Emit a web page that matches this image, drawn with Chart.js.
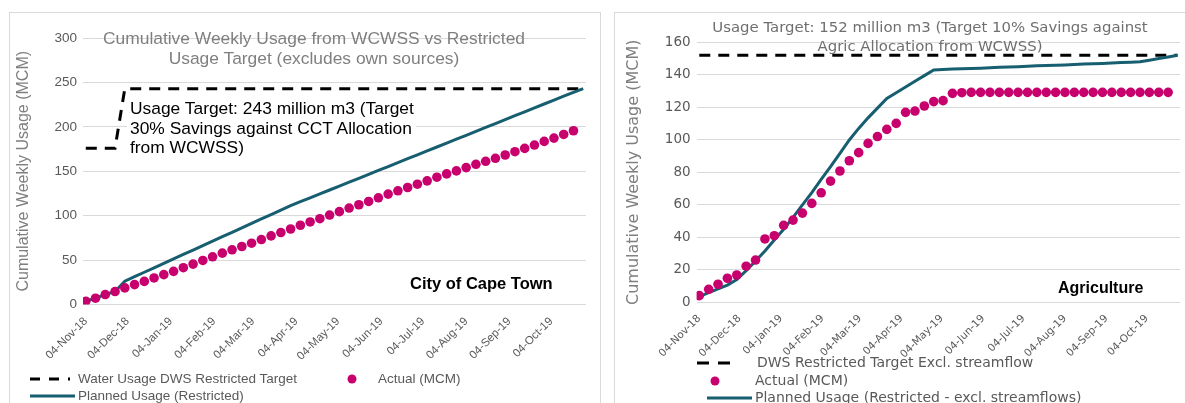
<!DOCTYPE html>
<html>
<head>
<meta charset="utf-8">
<script src="https://cdn.jsdelivr.net/npm/chart.js"></script>
<style>
  html, body { margin: 0; padding: 0; background: #fff; overflow: hidden; }
  body { width: 1185px; height: 403px; position: relative; font-family: 'Liberation Sans', Arial, sans-serif; }
  .panel { position: absolute; border: 1px solid #d9d9d9; box-sizing: border-box; }
  canvas { position: absolute; }
  .txt { position: absolute; white-space: nowrap; }
  .note span { background: #fff; padding: 0 4px 0 3px; }
  .agri { font-family: 'DejaVu Sans', sans-serif; }
  .legend { position: absolute; color: #595959; white-space: nowrap; }
  .legend svg { position: absolute; }
</style>
</head>
<body>
<div class="panel" style="left:9px; top:12px; width:592px; height:420px;"></div>
<div class="panel" style="left:614px; top:12px; width:590px; height:420px;"></div>

<canvas id="cctChart" width="594" height="391" style="left:9px; top:12px;"></canvas>
<canvas id="agriChart" width="571" height="391" style="left:614px; top:12px;"></canvas>

<!-- left chart texts -->
<div class="txt" style="left:64px; top:29px; width:500px; text-align:center; font-size:17.4px; line-height:19.7px; color:#7f7f7f;">
  Cumulative Weekly Usage from WCWSS vs Restricted<br>Usage Target (excludes own sources)
</div>
<div class="txt note" style="left:127px; top:99px; font-size:17.4px; line-height:19.7px; color:#000;">
  <span>Usage Target: 243 million m3 (Target</span><br><span>30% Savings against CCT Allocation</span><br><span>from WCWSS)</span>
</div>
<div class="txt" style="left:410px; top:274px; font-size:16.5px; font-weight:bold; color:#000;">City of Cape Town</div>

<div class="legend" style="left:0; top:371px; font-size:13.5px;">
  <svg style="left:30px; top:3px;" width="40" height="10"><line x1="0" y1="5" x2="40" y2="5" stroke="#000" stroke-width="3" stroke-dasharray="10,9"/></svg>
  <span style="position:absolute; left:78px; top:0;">Water Usage DWS Restricted Target</span>
  <svg style="left:347px; top:3px;" width="10" height="10"><circle cx="5" cy="5" r="4.5" fill="#c8006e"/></svg>
  <span style="position:absolute; left:378px; top:0;">Actual (MCM)</span>
  <svg style="left:30px; top:20px;" width="45" height="10"><line x1="0" y1="5" x2="45" y2="5" stroke="#165e70" stroke-width="3"/></svg>
  <span style="position:absolute; left:78px; top:17px;">Planned Usage (Restricted)</span>
</div>

<!-- right chart texts -->
<div class="txt agri" style="left:680px; top:18px; width:500px; text-align:center; font-size:14.9px; line-height:19px; color:#6f6f6f;">
  Usage Target: 152 million m3 (Target 10% Savings against<br>Agric Allocation from WCWSS)
</div>
<div class="txt" style="left:1058px; top:279px; font-size:16px; font-weight:bold; color:#000;">Agriculture</div>

<div class="legend agri" style="left:0; top:354px; font-size:14px; line-height:17.5px;">
  <svg style="left:697px; top:4px;" width="38" height="10"><line x1="0" y1="5" x2="38" y2="5" stroke="#000" stroke-width="3" stroke-dasharray="12,9"/></svg>
  <span style="position:absolute; left:757px; top:0;">DWS Restricted Target Excl. streamflow</span>
  <svg style="left:710px; top:22px;" width="10" height="10"><circle cx="5" cy="5" r="4.5" fill="#c8006e"/></svg>
  <span style="position:absolute; left:755px; top:17.5px;">Actual (MCM)</span>
  <svg style="left:707px; top:39px;" width="45" height="10"><line x1="0" y1="5" x2="45" y2="5" stroke="#165e70" stroke-width="3"/></svg>
  <span style="position:absolute; left:755px; top:35px;">Planned Usage (Restricted - excl. streamflows)</span>
</div>

<script>
// month tick labels on the date axis
const monthTicks = ['04-Nov-18', '04-Dec-18', '04-Jan-19', '04-Feb-19', '04-Mar-19', '04-Apr-19',
  '04-May-19', '04-Jun-19', '04-Jul-19', '04-Aug-19', '04-Sep-19', '04-Oct-19'];
const startDate = Date.UTC(2018, 10, 4);

// City of Cape Town (MCM, weekly from 04-Nov-18)
const cctActual = [
  3.7, 7.1, 11.2, 14.6, 18.7, 22.4, 26.0, 29.9, 33.6, 37.3,
  41.4, 45.5, 49.6, 53.7, 57.8, 61.6, 65.3, 69.0, 73.1, 77.2,
  81.0, 85.0, 89.2, 92.9, 96.6, 100.7, 104.5, 108.6, 112.3, 116.0,
  120.1, 124.3, 128.0, 131.7, 135.4, 139.2, 143.3, 147.0, 150.4, 154.1,
  157.8, 161.2, 164.6, 168.3, 172.0, 175.7, 179.5, 183.6, 187.3, 191.4,
  195.6];
const cctPlanned = [
  3.7, 7.1, 11.2, 14.6, 26.3, 31.3, 36.3, 41.3, 46.3, 51.3,
  56.3, 61.3, 66.3, 71.3, 76.3, 81.3, 86.3, 91.3, 96.3, 101.3,
  106.3, 111.3, 115.7, 120.1, 124.5, 128.9, 133.3, 137.7, 142.1, 146.5,
  150.9, 155.3, 159.7, 164.1, 168.5, 172.9, 177.3, 181.7, 186.1, 190.5,
  194.9, 199.3, 203.7, 208.1, 212.5, 216.9, 221.3, 225.7, 230.1, 234.5,
  238.9, 243.0];
const cctTarget = [
  176, 176, 176, 176, 243, 243, 243, 243, 243, 243,
  243, 243, 243, 243, 243, 243, 243, 243, 243, 243,
  243, 243, 243, 243, 243, 243, 243, 243, 243, 243,
  243, 243, 243, 243, 243, 243, 243, 243, 243, 243,
  243, 243, 243, 243, 243, 243, 243, 243, 243, 243,
  243, 243];

// Agriculture (MCM, weekly from 04-Nov-18)
const agriActual = [
  4.1, 8.0, 11.1, 14.8, 16.8, 22.2, 26.0, 39.0, 41.0, 47.4,
  50.6, 54.9, 60.9, 67.4, 74.6, 80.8, 87.1, 92.1, 97.8, 102.0,
  106.4, 110.1, 116.9, 117.7, 120.8, 123.5, 124.1, 128.6, 129.0, 129.2,
  129.2, 129.2, 129.2, 129.2, 129.2, 129.2, 129.2, 129.2, 129.2, 129.2,
  129.2, 129.2, 129.2, 129.2, 129.2, 129.2, 129.2, 129.2, 129.2, 129.2,
  129.2];
const agriPlanned = [
  3.5, 5.9, 8.3, 10.6, 14.0, 19.5, 25.4, 31.6, 38.3, 44.9,
  52.3, 59.9, 67.5, 75.7, 83.5, 91.7, 99.9, 107.0, 113.5, 119.5,
  125.5, 129.0, 132.5, 136.0, 139.5, 143.0, 143.2, 143.5, 143.7, 143.9,
  144.1, 144.4, 144.6, 144.8, 145.0, 145.3, 145.5, 145.7, 145.9, 146.1,
  146.4, 146.6, 146.8, 147.0, 147.3, 147.5, 147.7, 148.0, 149.0, 150.0,
  151.0, 152.0];
const agriTarget = [
  152, 152, 152, 152, 152, 152, 152, 152, 152, 152,
  152, 152, 152, 152, 152, 152, 152, 152, 152, 152,
  152, 152, 152, 152, 152, 152, 152, 152, 152, 152,
  152, 152, 152, 152, 152, 152, 152, 152, 152, 152,
  152, 152, 152, 152, 152, 152, 152, 152, 152, 152,
  152, 152];

const MONTHS = ['Jan', 'Feb', 'Mar', 'Apr', 'May', 'Jun', 'Jul', 'Aug', 'Sep', 'Oct', 'Nov', 'Dec'];
const dayOf = (label) => {
  const [d, m, y] = label.split('-');
  return (Date.UTC(2000 + Number(y), MONTHS.indexOf(m), Number(d)) - startDate) / 864e5;
};
const tickDays = monthTicks.map(dayOf);
// weekly series sit 7 days apart from the start date
const toPoints = (values) => values.map((v, i) => ({ x: i * 7, y: v }));

const buildChart = (id, opts) => {
  const ctx = document.getElementById(id);
  return new Chart(ctx, {
    type: 'line',
    data: {
      datasets: [
        {
          label: 'Actual (MCM)',
          data: toPoints(opts.actual),
          showLine: false,
          pointRadius: 4.8,
          pointHoverRadius: 4.8,
          pointBackgroundColor: '#c8006e',
          pointBorderWidth: 0,
        },
        {
          label: 'Planned',
          data: toPoints(opts.planned),
          borderColor: '#165e70',
          borderWidth: 3,
          pointRadius: 0,
          tension: 0,
        },
        {
          label: 'Target',
          data: toPoints(opts.target),
          borderColor: '#000',
          borderWidth: 3,
          borderDash: [11, 8],
          pointRadius: 0,
        },
      ],
    },
    options: {
      responsive: false,
      animation: false,
      events: [],
      layout: { padding: { top: opts.top, right: opts.right, left: 0, bottom: 0 } },
      plugins: { legend: { display: false }, tooltip: { enabled: false } },
      scales: {
        x: {
          type: 'linear',
          min: -2,
          max: 359,
          afterFit: (s) => { s.height = opts.xHeight; },
          afterBuildTicks: (s) => { s.ticks = tickDays.map((v) => ({ value: v })); },
          grid: { display: false },
          border: { display: false },
          ticks: {
            autoSkip: false,
            minRotation: 45,
            maxRotation: 45,
            padding: 2,
            color: '#595959',
            font: { size: opts.xFont, family: opts.family },
            callback: (value, index) => monthTicks[index],
          },
        },
        y: {
          min: 0,
          max: opts.yMax,
          afterFit: (s) => { s.width = opts.yWidth; },
          grid: { color: '#d9d9d9', lineWidth: 1, drawTicks: false },
          border: { display: false },
          ticks: {
            stepSize: opts.yStep,
            padding: 6,
            color: '#595959',
            font: { size: 13.5, family: opts.family },
          },
          title: {
            display: true,
            text: 'Cumulative Weekly Usage (MCM)',
            color: '#7f7f7f',
            padding: { top: opts.titlePad, bottom: 0 },
            font: { size: opts.titleFont, family: opts.family },
          },
        },
      },
    },
  });
};

buildChart('cctChart', {
  actual: cctActual, planned: cctPlanned, target: cctTarget,
  yMax: 300, yStep: 50, top: 26, right: 17, yWidth: 74, xHeight: 98.5,
  family: "'Liberation Sans', Arial, sans-serif", xFont: 11.5, titleFont: 16, titlePad: 5,
});
buildChart('agriChart', {
  actual: agriActual, planned: agriPlanned, target: agriTarget,
  yMax: 160, yStep: 20, top: 30.3, right: 3.6, yWidth: 82.6, xHeight: 100.7,
  family: "'DejaVu Sans', sans-serif", xFont: 10.5, titleFont: 16, titlePad: 10,
});
</script>
</body>
</html>
